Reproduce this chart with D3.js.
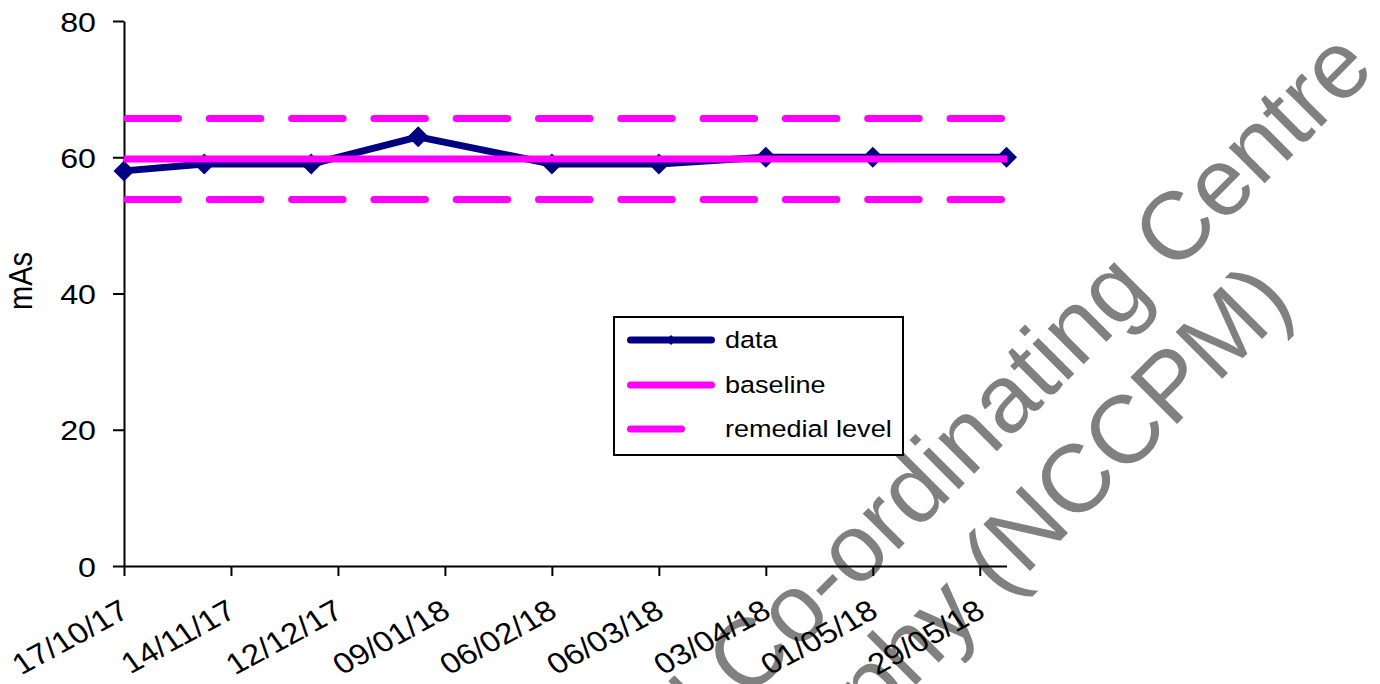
<!DOCTYPE html>
<html>
<head>
<meta charset="utf-8">
<script src="https://cdn.jsdelivr.net/npm/d3@7"></script>
<style>
  body { margin: 0; background: #fff; }
  svg { display: block; font-family: "Liberation Sans", Arial, sans-serif; }
</style>
</head>
<body>
<svg id="chart" width="1380" height="684"></svg>
<script>
// data
const sessionDates = ["2017-10-17", "2017-11-07", "2017-12-05", "2018-01-02", "2018-02-06",
                      "2018-03-06", "2018-04-03", "2018-05-01", "2018-06-05"];
const mAsValues = [58, 59, 59, 63, 59, 59, 60, 60, 60];
const baselineValue = 59.75;
const remedialLevels = [65.7, 53.8];
const tickDates = ["2017-10-17", "2017-11-14", "2017-12-12", "2018-01-09", "2018-02-06",
                   "2018-03-06", "2018-04-03", "2018-05-01", "2018-05-29"];
const yTicks = [0, 20, 40, 60, 80];
const legendNames = ["data", "baseline", "remedial level"];
const watermarkLines = ["National Co-ordinating Centre", "for the Physics of Mammography (NCCPM)"];

const NAVY = "#000080";
const MAGENTA = "#ff00ff";
const S = 1.15; // the original picture is a bit stretched sideways

const parse = d3.utcParse("%Y-%m-%d");
const fmt = d3.utcFormat("%d/%m/%y");

const svg = d3.select("#chart");

// watermark sits under everything
const wmPos = [[1377, 71], [1296, 305]];
svg.append("g")
  .selectAll("text")
  .data(watermarkLines)
  .enter()
  .append("text")
  .attr("transform", (d, i) => `translate(${wmPos[i][0]},${wmPos[i][1]}) rotate(-45)`)
  .attr("text-anchor", "end")
  .style("font-size", "96px")
  .style("fill", "#808080")
  .text(d => d);

// scales
const x = d3.scaleUtc()
  .domain([parse("2017-10-17"), parse("2018-06-05")])
  .range([124, 1006.5]);
const y = d3.scaleLinear().domain([0, 80]).range([566, 21]);

// y axis
const yAxis = svg.append("g")
  .attr("transform", "translate(124,0)")
  .call(d3.axisLeft(y).tickValues(yTicks).tickSize(11).tickSizeOuter(0));
yAxis.selectAll("text")
  .attr("x", 0)
  .attr("dy", "0.36em")
  .attr("transform", `translate(-28,0) scale(${S},1)`)
  .style("font-size", "28px")
  .style("fill", "#000");

// x axis
const xAxis = svg.append("g")
  .attr("transform", "translate(0,566)")
  .call(d3.axisBottom(x).tickValues(tickDates.map(parse)).tickFormat(fmt)
    .tickSize(10).tickSizeOuter(0));
xAxis.selectAll("text")
  .attr("x", 0)
  .attr("y", 0)
  .attr("dy", "0.72em")
  .attr("text-anchor", "end")
  .attr("transform", `translate(-6,32) scale(${S},1) rotate(-32)`)
  .style("font-size", "29px")
  .style("fill", "#000");

svg.selectAll(".domain, .tick line")
  .attr("stroke", "#000")
  .attr("stroke-width", 2);

// y title
svg.append("text")
  .attr("transform", `translate(20,281) scale(${S},1) rotate(-90)`)
  .attr("text-anchor", "middle")
  .attr("dy", "0.35em")
  .style("font-size", "29px")
  .text("mAs");

// data series
const points = sessionDates.map((d, i) => ({ date: parse(d), v: mAsValues[i] }));
const line = d3.line().x(d => x(d.date)).y(d => y(d.v));

svg.append("path")
  .datum(points)
  .attr("d", line)
  .attr("fill", "none")
  .attr("stroke", NAVY)
  .attr("stroke-width", 7)
  .attr("stroke-linejoin", "round");

const diamond = (w, h) => `M0,${-h}L${w},0L0,${h}L${-w},0Z`;
svg.selectAll(".marker")
  .data(points)
  .enter()
  .append("path")
  .classed("marker", true)
  .attr("d", diamond(10.5, 10.5))
  .attr("transform", d => `translate(${x(d.date)},${y(d.v)})`)
  .attr("fill", NAVY);

// baseline and remedial levels, clipped to the plot
svg.append("clipPath")
  .attr("id", "plotClip")
  .append("rect")
  .attr("x", 124).attr("y", 0)
  .attr("width", 1007.5 - 124).attr("height", 684);

const levels = svg.append("g").attr("clip-path", "url(#plotClip)");
const [x0, x1] = x.range();

levels.append("line")
  .attr("x1", x0).attr("x2", x1 + 1)
  .attr("y1", y(baselineValue)).attr("y2", y(baselineValue))
  .attr("stroke", MAGENTA)
  .attr("stroke-width", 7);

levels.selectAll(".remedial")
  .data(remedialLevels)
  .enter()
  .append("line")
  .classed("remedial", true)
  .attr("x1", x0 + 3).attr("x2", x1 + 6)
  .attr("y1", d => y(d)).attr("y2", d => y(d))
  .attr("stroke", MAGENTA)
  .attr("stroke-width", 7)
  .attr("stroke-linecap", "round")
  .attr("stroke-dasharray", "51.5,30.8");

// legend
const legend = svg.append("g");
legend.append("rect")
  .attr("x", 614).attr("y", 317)
  .attr("width", 289).attr("height", 138)
  .attr("fill", "#fff")
  .attr("stroke", "#000")
  .attr("stroke-width", 2);

const rowY = [340, 385, 429];
legend.append("line")
  .attr("x1", 630.5).attr("x2", 711.5).attr("y1", rowY[0]).attr("y2", rowY[0])
  .attr("stroke", NAVY).attr("stroke-width", 7).attr("stroke-linecap", "round");
legend.append("path")
  .attr("d", diamond(5, 5))
  .attr("transform", `translate(671,${rowY[0]})`)
  .attr("fill", NAVY);
legend.append("line")
  .attr("x1", 630.5).attr("x2", 711.5).attr("y1", rowY[1]).attr("y2", rowY[1])
  .attr("stroke", MAGENTA).attr("stroke-width", 7).attr("stroke-linecap", "round");
legend.append("line")
  .attr("x1", 630.5).attr("x2", 681.5).attr("y1", rowY[2]).attr("y2", rowY[2])
  .attr("stroke", MAGENTA).attr("stroke-width", 7).attr("stroke-linecap", "round");

legend.selectAll(".label")
  .data(legendNames)
  .enter()
  .append("text")
  .classed("label", true)
  .attr("transform", (d, i) => `translate(725,${rowY[i]}) scale(${S},1)`)
  .attr("dy", "0.35em")
  .style("font-size", "23.5px")
  .text(d => d);
</script>
</body>
</html>
